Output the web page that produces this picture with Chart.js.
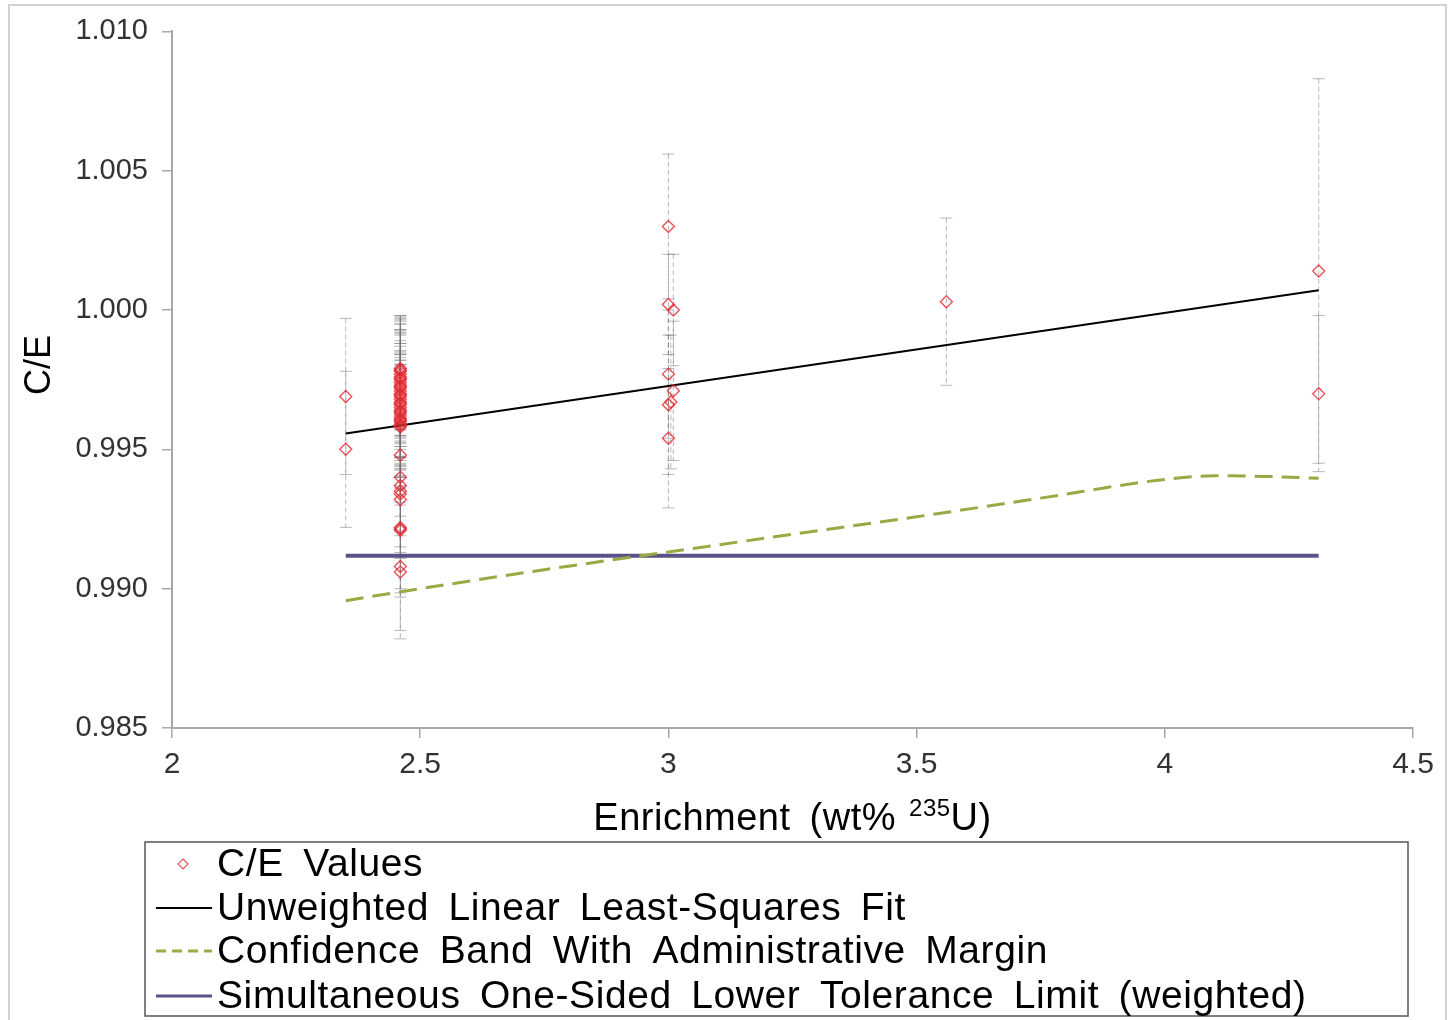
<!DOCTYPE html>
<html>
<head>
<meta charset="utf-8">
<script src="https://cdn.jsdelivr.net/npm/chart.js@4.4.1/dist/chart.umd.min.js"></script>
<style>
  body { margin: 0; background: #fff; }
  #wrap { position: relative; width: 1449px; height: 1020px; }
</style>
</head>
<body>
<div id="wrap"><canvas id="grafico"></canvas></div>
<script>
// C/E values, enrichment (wt% 235U) and 1-sigma uncertainty
const ceX = [2.35, 2.35,
  2.46, 2.46, 2.46, 2.46, 2.46, 2.46, 2.46, 2.46, 2.46, 2.46, 2.46, 2.46, 2.46, 2.46, 2.46, 2.46,
  2.46, 2.46, 2.46, 2.46, 2.46, 2.46, 2.46, 2.46, 2.46, 2.46, 2.46, 2.46, 2.46, 2.46, 2.46,
  2.46, 2.46, 2.46, 2.46, 2.46, 2.46, 2.46, 2.46, 2.46, 2.46,
  3.00, 3.00, 3.01, 3.00, 3.00, 3.005, 3.01, 3.00,
  3.56,
  4.31, 4.31];
const ceY = [0.9969, 0.9950,
  0.9979, 0.9978, 0.9977, 0.9976, 0.9975, 0.9974, 0.9973, 0.9972, 0.9971, 0.9970, 0.9969, 0.9968, 0.9967, 0.9966, 0.9965, 0.9964,
  0.9963, 0.9962, 0.9961, 0.9960, 0.9959, 0.9958, 0.9948, 0.9940, 0.9937, 0.9934, 0.9932, 0.9922, 0.9921, 0.9908, 0.9906,
  0.99785, 0.99755, 0.99725, 0.99695, 0.99665, 0.99635, 0.99605, 0.99585, 0.9935, 0.99215,
  1.0030, 1.0002, 1.0000, 0.9977, 0.9966, 0.9967, 0.9971, 0.9954,
  1.0003,
  1.0014, 0.9970];
const ceErr = [0.0028, 0.0028,
  0.0019, 0.0020, 0.0018, 0.0021, 0.0020, 0.0022, 0.0019, 0.0021, 0.0020, 0.0023, 0.0019, 0.0021, 0.0020, 0.0022, 0.0019, 0.0021,
  0.0020, 0.0022, 0.0021, 0.0020, 0.0023, 0.0021, 0.0022, 0.0021, 0.0022, 0.0023, 0.0021, 0.0022, 0.0024, 0.0023, 0.0024,
  0.0019, 0.0021, 0.0020, 0.0022, 0.0019, 0.0021, 0.0020, 0.0022, 0.0022, 0.0023,
  0.0026, 0.0018, 0.0020, 0.0023, 0.0025, 0.0024, 0.0025, 0.0025,
  0.0030,
  0.0069, 0.0028];

// unweighted linear least-squares fit (end points)
const fitX = [2.35, 4.31];
const fitY = [0.99557, 1.00071];

// confidence band with administrative margin
const bandX = [2.35, 2.5, 2.75, 3.0, 3.25, 3.5, 3.75, 4.0, 4.1, 4.2, 4.31];
const bandY = [0.98957, 0.99000, 0.99068, 0.99132, 0.99195, 0.99258, 0.99325, 0.99392, 0.99405, 0.99403, 0.99396];

// simultaneous one-sided lower tolerance limit
const tolX = [2.35, 4.31];
const tolY = [0.99118, 0.99118];

const xTicks = [2, 2.5, 3, 3.5, 4, 4.5];
const yTicks = [0.985, 0.990, 0.995, 1.000, 1.005, 1.010];

const legendLabels = [
  "C/E Values",
  "Unweighted Linear Least-Squares Fit",
  "Confidence Band With Administrative Margin",
  "Simultaneous One-Sided Lower Tolerance Limit (weighted)"
];

const FONT = "'Liberation Sans', Arial, sans-serif";
const puntoColor = "rgba(228, 40, 50, 0.8)";
const bandaColor = "#96ab44";
const tolColor = "#5b5388";

const toPts = (xs, ys) => xs.map((x, i) => ({ x: x, y: ys[i] }));

const errorBars = {
  id: "errorBars",
  beforeDatasetsDraw(chart) {
    const ctx = chart.ctx;
    const sx = chart.scales.x, sy = chart.scales.y;
    ctx.save();
    ctx.strokeStyle = "rgba(120, 110, 115, 0.5)";
    ctx.lineWidth = 1;
    ceX.forEach((x, i) => {
      const px = sx.getPixelForValue(x);
      const top = sy.getPixelForValue(ceY[i] + ceErr[i]);
      const bot = sy.getPixelForValue(ceY[i] - ceErr[i]);
      ctx.setLineDash([5, 3]);
      ctx.beginPath();
      ctx.moveTo(px, top);
      ctx.lineTo(px, bot);
      ctx.stroke();
      ctx.setLineDash([]);
      ctx.beginPath();
      ctx.moveTo(px - 6, top); ctx.lineTo(px + 6, top);
      ctx.moveTo(px - 6, bot); ctx.lineTo(px + 6, bot);
      ctx.stroke();
    });
    ctx.restore();
  }
};

const extras = {
  id: "extras",
  afterDraw(chart) {
    const ctx = chart.ctx;
    ctx.save();
    // outer frame
    ctx.strokeStyle = "#d2d2d2";
    ctx.lineWidth = 2;
    ctx.strokeRect(9, 5, 1437, 1020);

    // y axis title
    ctx.save();
    ctx.translate(40, 365);
    ctx.rotate(-Math.PI / 2);
    ctx.font = "36px " + FONT;
    ctx.fillStyle = "#000";
    ctx.textAlign = "center";
    ctx.textBaseline = "middle";
    ctx.fillText("C/E", 0, 0);
    ctx.restore();

    // x axis title with superscript
    const cx = (chart.chartArea.left + chart.chartArea.right) / 2;
    const base = 830;
    ctx.fillStyle = "#000";
    ctx.textBaseline = "alphabetic";
    ctx.textAlign = "left";
    ctx.wordSpacing = "8px";
    ctx.letterSpacing = "0.5px";
    ctx.font = "38px " + FONT;
    const a = "Enrichment (wt% ", b = "235", c = "U)";
    const wa = ctx.measureText(a).width - 6, wc = ctx.measureText(c).width;
    ctx.font = "24px " + FONT;
    const wb = ctx.measureText(b).width;
    let x0 = cx - (wa + wb + wc) / 2;
    ctx.font = "38px " + FONT;
    ctx.fillText(a, x0, base);
    ctx.font = "24px " + FONT;
    ctx.fillText(b, x0 + wa, base - 14);
    ctx.font = "38px " + FONT;
    ctx.fillText(c, x0 + wa + wb, base);

    // legend box
    const L = 145, T = 842, R = 1408, B = 1016;
    ctx.fillStyle = "#fff";
    ctx.fillRect(L, T, R - L, B - T);
    ctx.strokeStyle = "#555";
    ctx.lineWidth = 1.5;
    ctx.strokeRect(L, T, R - L, B - T);
    const rows = [864, 908, 951, 996];
    ctx.font = "39px " + FONT;
    ctx.wordSpacing = "8px";
    ctx.letterSpacing = "0.6px";
    ctx.fillStyle = "#000";
    ctx.textBaseline = "middle";
    legendLabels.forEach((t, i) => {
      ctx.fillText(t, 217, rows[i] + 1);
    });
    ctx.wordSpacing = "0px";
    ctx.letterSpacing = "0px";
    // markers
    ctx.strokeStyle = puntoColor;
    ctx.lineWidth = 1.2;
    ctx.beginPath();
    const dy = rows[0];
    ctx.moveTo(183, dy - 5); ctx.lineTo(188, dy); ctx.lineTo(183, dy + 5); ctx.lineTo(178, dy); ctx.closePath();
    ctx.stroke();
    ctx.lineWidth = 2;
    ctx.strokeStyle = "#000";
    ctx.beginPath(); ctx.moveTo(156, rows[1]); ctx.lineTo(212, rows[1]); ctx.stroke();
    ctx.lineWidth = 3;
    ctx.strokeStyle = bandaColor;
    ctx.setLineDash([10, 6]);
    ctx.beginPath(); ctx.moveTo(156, rows[2]); ctx.lineTo(212, rows[2]); ctx.stroke();
    ctx.setLineDash([]);
    ctx.strokeStyle = tolColor;
    ctx.beginPath(); ctx.moveTo(156, rows[3]); ctx.lineTo(212, rows[3]); ctx.stroke();
    ctx.restore();
  }
};

new Chart(document.getElementById("grafico"), {
  type: "scatter",
  data: {
    datasets: [
      {
        label: legendLabels[0],
        data: toPts(ceX, ceY),
        pointStyle: "rectRot",
        pointRadius: 6,
        borderColor: puntoColor,
        backgroundColor: "rgba(0,0,0,0)",
        borderWidth: 1.4,
        order: 1
      },
      {
        label: legendLabels[1],
        type: "line",
        data: toPts(fitX, fitY),
        borderColor: "#000",
        borderWidth: 2,
        pointRadius: 0,
        order: 2
      },
      {
        label: legendLabels[2],
        type: "line",
        data: toPts(bandX, bandY),
        borderColor: bandaColor,
        borderWidth: 3,
        borderDash: [18, 9],
        cubicInterpolationMode: "monotone",
        pointRadius: 0,
        order: 3
      },
      {
        label: legendLabels[3],
        type: "line",
        data: toPts(tolX, tolY),
        borderColor: tolColor,
        borderWidth: 4,
        pointRadius: 0,
        order: 4
      }
    ]
  },
  options: {
    responsive: true,
    maintainAspectRatio: false,
    animation: false,
    layout: { padding: { left: 0, top: 28, right: 36, bottom: 180 } },
    plugins: {
      legend: { display: false },
      tooltip: { enabled: false }
    },
    scales: {
      x: {
        type: "linear",
        min: 2,
        max: 4.5,
        afterBuildTicks: (s) => { s.ticks = xTicks.map(v => ({ value: v })); },
        afterFit: (s) => { s.height = 112; },
        grid: { drawOnChartArea: false, tickLength: 10, color: "#a8a8a8", lineWidth: 1.5 },
        border: { color: "#a8a8a8", width: 2 },
        ticks: {
          color: "#333",
          font: { family: FONT, size: 30 },
          padding: 9,
          maxRotation: 0,
          callback: (v) => String(v)
        }
      },
      y: {
        type: "linear",
        min: 0.985,
        max: 1.010,
        afterBuildTicks: (s) => { s.ticks = yTicks.map(v => ({ value: v })); },
        afterFit: (s) => { s.width = 172; },
        grid: { drawOnChartArea: false, tickLength: 10, color: "#a8a8a8", lineWidth: 1.5 },
        border: { color: "#a8a8a8", width: 2 },
        ticks: {
          color: "#333",
          font: { family: FONT, size: 29 },
          padding: 14,
          callback: (v) => v.toFixed(3)
        }
      }
    }
  },
  plugins: [errorBars, extras]
});
</script>
</body>
</html>
